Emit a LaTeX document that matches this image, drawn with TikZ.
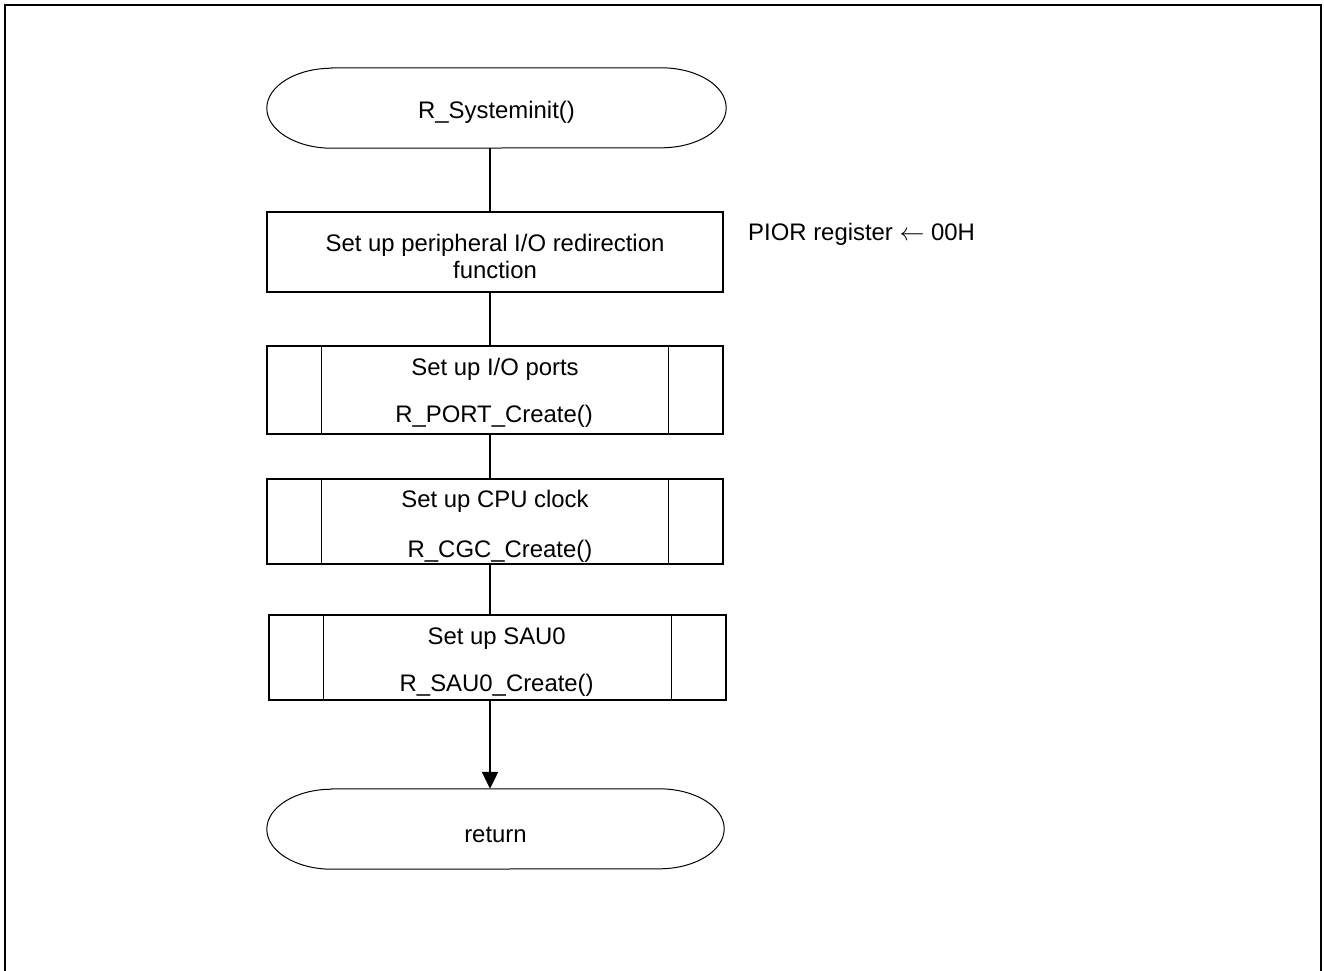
\documentclass[tikz,border=0pt]{standalone}
\usepackage{fontspec}
\setmainfont{Liberation Sans}
\usetikzlibrary{arrows.meta,calc}
\tikzset{
  txt/.style={inner sep=0pt,anchor=base,font=\fontsize{23.9}{28}\selectfont},
  boxshape/.style={draw,line width=1.4pt,inner sep=0pt,minimum width=#1},
  conn/.style={line width=2.2pt},
  termline/.style={line width=1pt},
  frameline/.style={line width=2.6pt},
}
\newcommand{\termpath}[1]{%
  \draw[termline] ($(#1.north west)+(65,0)$) -- ($(#1.north east)+(-65,0)$)
    arc[start angle=90,end angle=-90,x radius=65pt,y radius=40pt]
    -- ($(#1.south west)+(65,0)$)
    arc[start angle=270,end angle=90,x radius=65pt,y radius=40pt] -- cycle;}
\newcommand{\subbars}[2]{%
  \draw[line width=1.4pt] ($(#1.north west)+(#2,0)$) -- ($(#1.south west)+(#2,0)$);
  \draw[line width=1.4pt] ($(#1.north east)+(-#2,0)$) -- ($(#1.south east)+(-#2,0)$);}
\begin{document}
\begin{tikzpicture}[x=1pt,y=-1pt]
\useasboundingbox (0,0) rectangle (1324,970);
\draw[frameline] (5,975) -- (5,5) -- (1321,5) -- (1321,975);
\coordinate (spine) at (490,0);

% start terminal
\node[inner sep=0pt,minimum width=459pt,minimum height=80pt] (start) at (496.5,108) {};
\termpath{start}
\node[txt] (starttxt) at (496.5,118.3) {R\_Systeminit()};

% box 1
\node[boxshape=456pt,minimum height=80pt] (b1) at (495,252) {};
\node[txt] (b1a) at (495,251) {Set up peripheral I/O redirection};
\node[txt] (b1b) at (495,278) {function};
\node[txt,anchor=base west] (pior) at (748,240) {PIOR register $\leftarrow$ 00H};

% box 2
\node[boxshape=456pt,minimum height=88pt] (b2) at (495,390) {};
\subbars{b2}{55}
\node[txt] (b2a) at (495,375) {Set up I/O ports};
\node[txt] (b2b) at (494,422.5) {R\_PORT\_Create()};

% box 3
\node[boxshape=456pt,minimum height=85pt] (b3) at (495,521.5) {};
\subbars{b3}{55}
\node[txt] (b3a) at (495,507.3) {Set up CPU clock};
\node[txt] (b3b) at (500,557) {R\_CGC\_Create()};

% box 4
\node[boxshape=457pt,minimum height=85pt] (b4) at (497.5,657.5) {};
\subbars{b4}{55}
\node[txt] (b4a) at (496.7,644.3) {Set up SAU0};
\node[txt] (b4b) at (496.7,691) {R\_SAU0\_Create()};

% return terminal
\node[inner sep=0pt,minimum width=457pt,minimum height=80pt] (ret) at (495.5,829) {};
\termpath{ret}
\node[txt] (rettxt) at (495.5,842) {return};

% connectors
\draw[conn] (start.south -| spine) -- (b1.north -| spine);
\draw[conn] (b1.south -| spine) -- (b2.north -| spine);
\draw[conn] (b2.south -| spine) -- (b3.north -| spine);
\draw[conn] (b3.south -| spine) -- (b4.north -| spine);
\draw[conn,-{Triangle[width=16pt,length=17pt]}] (b4.south -| spine) -- (ret.north -| spine);
\end{tikzpicture}
\end{document}
